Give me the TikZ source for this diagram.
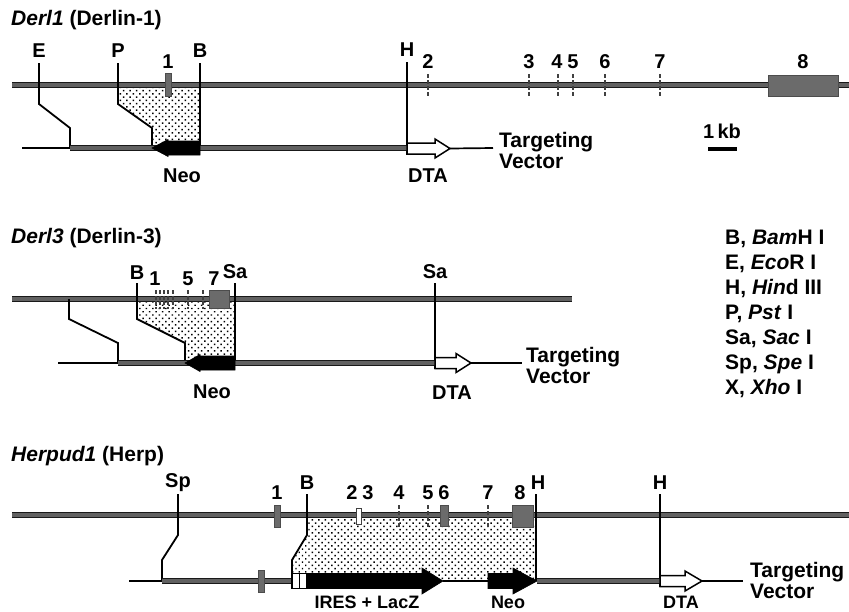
\documentclass[tikz,border=0pt]{standalone}
\usepackage{fontspec}
\setmainfont{Liberation Sans}
\usetikzlibrary{patterns.meta}
\begin{document}
\begin{tikzpicture}[x=1pt,y=-1pt,
  lbl/.style={font=\bfseries\fontsize{20}{22}\selectfont, inner sep=0pt},
  blbl/.style={font=\bfseries\fontsize{18}{20}\selectfont, inner sep=0pt},
  ttl/.style={font=\bfseries\fontsize{21}{23}\selectfont, inner sep=0pt, anchor=west},
  leg/.style={font=\bfseries\fontsize{21}{23}\selectfont, inner sep=0pt, anchor=west},
  tv/.style={font=\bfseries\fontsize{21}{21}\selectfont, inner sep=0pt, anchor=west, align=left},
  band/.style={draw=black!90, line width=1pt, double=black!62, double distance=4.8pt},
  thinl/.style={line width=1.7pt, black},
  site/.style={line width=1.8pt, black},
  exon/.style={fill=black!58, draw=black!70, line width=0.6pt},
  etick/.style={line width=1.6pt, black!75, dash pattern=on 4pt off 2pt},
  stip/.style={pattern={Dots[distance=4.6pt, angle=45, radius=1.05pt]}},
  neoarr/.style={fill=black, draw=black, line width=0.6pt},
  dtaarr/.style={fill=white, draw=black, line width=1.5pt},
]
\useasboundingbox (0,0) rectangle (849,611);
\fill[white] (0,0) rectangle (849,611);

% ================= Derl1 =================
\node[ttl] (t1) at (11,20) {\itshape Derl1\upshape\ (Derlin-1)};
\fill[stip] (118,85) -- (200,85) -- (200,148) -- (152,148) -- (152,128) -- (118,104) -- cycle;
\coordinate (g1a) at (12,85); \coordinate (g1b) at (849,85);
\draw[band] (g1a) -- (g1b);
% sites
\node[lbl] (e1) at (39,51) {E};
\node[lbl] (p1) at (118,51) {P};
\node[lbl] (b1) at (200,51) {B};
\node[lbl] (h1) at (407,50) {H};
\coordinate (e1k1) at (39,104); \coordinate (e1k2) at (70,128); \coordinate (e1k3) at (70,148);
\coordinate (p1k1) at (118,104); \coordinate (p1k2) at (152,128); \coordinate (p1k3) at (152,148);
\draw[site] (39,63) -- (e1k1) -- (e1k2) -- (e1k3);
\draw[site] (118,63) -- (p1k1) -- (p1k2) -- (p1k3);
\draw[site] (200,63) -- (200,148);
\draw[site] (407,62) -- (407,155);
% exons
\draw[exon] (165,73) rectangle (171,96);
\foreach \x in {428,529,558,573,605,660} \draw[etick] (\x,74) -- (\x,97);
\draw[exon] (768,75) rectangle (838,96);
\foreach \x/\n in {168/1,428/2,529/3,557/4,573/5,605/6,660/7,803/8}
  \node[lbl] (x1n\n) at (\x,62) {\n};
% vector
\coordinate (v1a) at (22,148); \coordinate (v1e) at (493,148);
\draw[thinl] (v1a) -- (e1k3);
\draw[band] (e1k3) -- (407,148);
\draw[neoarr] (200,141) -- (168,141) -- (168,139.5) -- (152,148) -- (168,156.5) -- (168,155) -- (200,155) -- cycle;
\draw[dtaarr] (407,143) -- (435,143) -- (435,139) -- (450,148.5) -- (435,158) -- (435,154) -- (407,154) -- cycle;
\draw[thinl] (450,148.5) -- (v1e);
\node[lbl] (neo1) at (182,176) {Neo};
\node[lbl] (dta1) at (428,176) {DTA};
\node[tv] (tv1) at (499,150) {Targeting\\Vector};
% scale
\node[lbl] (kb) at (722,131) {1\,kb};
\draw[line width=4pt] (708,149) -- (737,149);

% ================= Derl3 =================
\node[ttl] (t3) at (11,238) {\itshape Derl3\upshape\ (Derlin-3)};
\fill[stip] (137,299) -- (235,299) -- (235,363) -- (185,363) -- (185,343) -- (137,319) -- cycle;
\draw[band] (12,299) -- (572,299);
\node[lbl] (b3) at (137,273) {B};
\node[lbl] (sa3a) at (235,272) {Sa};
\node[lbl] (sa3b) at (435,272) {Sa};
\coordinate (l3k1) at (118,343); \coordinate (l3k2) at (118,363);
\draw[site] (69,299) -- (69,319) -- (l3k1) -- (l3k2);
\draw[site] (137,283) -- (137,319) -- (185,343) -- (185,363);
\draw[site] (235,283) -- (235,363);
\draw[site] (435,283) -- (435,369);
\foreach \x in {156,160,164,168,173,188,203} \draw[line width=1.4pt, black!75, dash pattern=on 4pt off 1.5pt] (\x,290) -- (\x,309);
\draw[exon] (209,290) rectangle (229,308);
\foreach \x/\n in {155/1,188/5,214/7}
  \node[lbl] (x3n\n) at (\x,279) {\n};
\draw[thinl] (58,363) -- (l3k2);
\draw[band] (l3k2) -- (435,363);
\draw[neoarr] (235,356) -- (200,356) -- (200,354.5) -- (185,363) -- (200,371.5) -- (200,370) -- (235,370) -- cycle;
\draw[dtaarr] (435,357.5) -- (456,357.5) -- (456,353.5) -- (471,363) -- (456,372.5) -- (456,368.5) -- (435,368.5) -- cycle;
\draw[thinl] (471,363) -- (522,363);
\node[lbl] (neo3) at (212,392) {Neo};
\node[lbl] (dta3) at (452,393) {DTA};
\node[tv] (tv3) at (526,365) {Targeting\\Vector};

% ================= legend =================
\node[leg] (lg1) at (725,239) {B, \textit{Bam}H I};
\node[leg] (lg2) at (725,264) {E, \textit{Eco}R I};
\node[leg] (lg3) at (725,289) {H, \textit{Hin}d III};
\node[leg] (lg4) at (725,314) {P, \textit{Pst} I};
\node[leg] (lg5) at (725,339) {Sa, \textit{Sac} I};
\node[leg] (lg6) at (725,364) {Sp, \textit{Spe} I};
\node[leg] (lg7) at (725,389) {X, \textit{Xho} I};

% ================= Herpud1 =================
\node[ttl] (t5) at (11,456) {\itshape Herpud1\upshape\ (Herp)};
\fill[stip] (307,515) -- (536,515) -- (536,581) -- (292,581) -- (292,560) -- (307,535) -- cycle;
\draw[band] (12,515) -- (849,515);
\node[lbl] (sp5) at (178,483) {Sp};
\node[lbl] (b5) at (307,483) {B};
\node[lbl] (h5a) at (538,483) {H};
\node[lbl] (h5b) at (660,483) {H};
\coordinate (s5k1) at (162,560); \coordinate (s5k2) at (162,581);
\draw[site] (178,494) -- (178,535) -- (s5k1) -- (s5k2);
\draw[site] (307,494) -- (307,535) -- (292,560) -- (292,575);
\draw[site] (536,494) -- (536,581);
\draw[site] (660,494) -- (660,587);
\draw[exon] (274,505) rectangle (280,527);
\draw[exon] (440,505) rectangle (448,526);
\draw[exon] (512,505) rectangle (533,527);
\draw[fill=white, draw=black!75, line width=0.8pt] (356.5,508) rectangle (361.5,524);
\foreach \x in {399,428,488} \draw[etick] (\x,505) -- (\x,527);
\foreach \x/\n in {277/1,352/2,368/3,399/4,428/5,444/6,488/7,520/8}
  \node[lbl] (x5n\n) at (\x,493) {\n};
\draw[thinl] (129,581) -- (s5k2);
\draw[band] (s5k2) -- (292,581);
\draw[exon] (258,570) rectangle (264,592);
\draw[neoarr] (307,573.5) -- (422,573.5) -- (422,568) -- (443,581) -- (422,594) -- (422,588.5) -- (307,588.5) -- cycle;
\draw[fill=white, draw=black, line width=1.2pt] (292,573.5) rectangle (307,588.5);
\draw[line width=1.6pt] (299.5,574) -- (299.5,588);
\draw[thinl] (443,581) -- (488,581);
\draw[neoarr] (488,573.5) -- (513,573.5) -- (513,568) -- (537,581) -- (513,594) -- (513,588.5) -- (488,588.5) -- cycle;
\draw[band] (537,581) -- (660,581);
\draw[dtaarr] (660,575.5) -- (685,575.5) -- (685,571) -- (702,581) -- (685,591) -- (685,586.5) -- (660,586.5) -- cycle;
\draw[thinl] (702,581) -- (743,581);
\node[blbl] (lacz) at (367,602.5) {IRES + LacZ};
\node[blbl] (neo5) at (508,602.5) {Neo};
\node[blbl] (dta5) at (681,602.5) {DTA};
\node[tv] (tv5) at (750,580) {Targeting\\Vector};
\end{tikzpicture}
\end{document}
